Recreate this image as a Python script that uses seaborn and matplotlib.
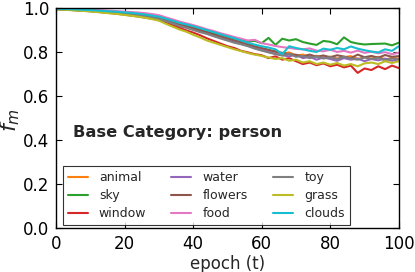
#!/usr/bin/env python3

import pandas as pd
import matplotlib
matplotlib.use("Agg")
import matplotlib.pyplot as plt
import seaborn as sns

# epochs sampled every 2 steps
epochs = list(range(0, 101, 2))

categories = ["animal", "sky", "window", "water", "flowers",
              "food", "toy", "grass", "clouds"]
colors = ["#ff7f0e", "#2ca02c", "#d62728", "#9467bd", "#8c564b",
          "#e377c2", "#7f7f7f", "#bcbd22", "#17becf"]

animal = [0.995, 0.994, 0.993, 0.991, 0.990, 0.989, 0.987, 0.985, 0.983, 0.980, 0.977,
          0.974, 0.970, 0.966, 0.961, 0.955, 0.945, 0.934, 0.924, 0.915, 0.906,
          0.896, 0.888, 0.876, 0.868, 0.858, 0.850, 0.842, 0.832, 0.822, 0.815,
          0.806, 0.802, 0.792, 0.798, 0.784, 0.788, 0.776, 0.783, 0.772, 0.779,
          0.770, 0.776, 0.781, 0.768, 0.775, 0.770, 0.778, 0.766, 0.773, 0.770]
sky = [0.996, 0.995, 0.993, 0.991, 0.989, 0.988, 0.986, 0.984, 0.982, 0.979, 0.976,
       0.973, 0.969, 0.965, 0.960, 0.955, 0.946, 0.935, 0.925, 0.918, 0.910,
       0.902, 0.894, 0.885, 0.878, 0.870, 0.862, 0.856, 0.848, 0.850, 0.840,
       0.864, 0.832, 0.860, 0.852, 0.858, 0.845, 0.838, 0.832, 0.850, 0.846,
       0.835, 0.866, 0.845, 0.838, 0.834, 0.836, 0.837, 0.838, 0.830, 0.842]
window = [0.994, 0.993, 0.991, 0.989, 0.987, 0.985, 0.982, 0.979, 0.976, 0.973, 0.969,
          0.965, 0.961, 0.956, 0.951, 0.945, 0.933, 0.921, 0.910, 0.898, 0.888,
          0.876, 0.862, 0.850, 0.838, 0.826, 0.818, 0.805, 0.798, 0.790, 0.785,
          0.772, 0.780, 0.765, 0.772, 0.758, 0.745, 0.752, 0.740, 0.748, 0.735,
          0.742, 0.730, 0.738, 0.705, 0.725, 0.718, 0.735, 0.722, 0.738, 0.727]
water = [0.995, 0.994, 0.992, 0.991, 0.989, 0.988, 0.986, 0.983, 0.981, 0.978, 0.975,
         0.971, 0.967, 0.963, 0.958, 0.952, 0.941, 0.931, 0.920, 0.911, 0.902,
         0.892, 0.884, 0.872, 0.864, 0.855, 0.846, 0.836, 0.828, 0.818, 0.810,
         0.800, 0.792, 0.785, 0.780, 0.788, 0.772, 0.778, 0.765, 0.775, 0.768,
         0.760, 0.772, 0.765, 0.770, 0.758, 0.768, 0.762, 0.770, 0.760, 0.765]
flowers = [0.996, 0.995, 0.994, 0.992, 0.991, 0.989, 0.987, 0.985, 0.983, 0.981, 0.978,
           0.975, 0.971, 0.967, 0.962, 0.956, 0.946, 0.936, 0.925, 0.917, 0.909,
           0.899, 0.890, 0.880, 0.872, 0.862, 0.853, 0.845, 0.835, 0.826, 0.818,
           0.810, 0.802, 0.796, 0.790, 0.786, 0.780, 0.788, 0.778, 0.784, 0.776,
           0.785, 0.779, 0.772, 0.788, 0.776, 0.782, 0.774, 0.786, 0.778, 0.781]
food = [0.997, 0.996, 0.995, 0.994, 0.993, 0.992, 0.990, 0.989, 0.987, 0.985, 0.983,
        0.981, 0.979, 0.976, 0.972, 0.967, 0.957, 0.948, 0.938, 0.930, 0.922,
        0.913, 0.903, 0.895, 0.885, 0.877, 0.868, 0.860, 0.852, 0.855, 0.840,
        0.834, 0.827, 0.822, 0.818, 0.814, 0.812, 0.816, 0.806, 0.803, 0.810,
        0.800, 0.805, 0.797, 0.806, 0.796, 0.801, 0.794, 0.799, 0.790, 0.796]
toy = [0.993, 0.992, 0.991, 0.989, 0.987, 0.985, 0.983, 0.980, 0.978, 0.975, 0.972,
       0.968, 0.965, 0.961, 0.956, 0.950, 0.940, 0.930, 0.918, 0.910, 0.900,
       0.890, 0.882, 0.872, 0.861, 0.852, 0.842, 0.835, 0.826, 0.815, 0.806,
       0.798, 0.790, 0.784, 0.792, 0.778, 0.782, 0.772, 0.780, 0.770, 0.776,
       0.768, 0.778, 0.770, 0.765, 0.775, 0.768, 0.773, 0.762, 0.770, 0.766]
grass = [0.993, 0.992, 0.990, 0.988, 0.986, 0.984, 0.981, 0.978, 0.975, 0.972, 0.968,
         0.964, 0.960, 0.955, 0.949, 0.942, 0.928, 0.915, 0.902, 0.892, 0.878,
         0.866, 0.852, 0.842, 0.832, 0.822, 0.812, 0.804, 0.795, 0.788, 0.782,
         0.775, 0.768, 0.772, 0.760, 0.765, 0.752, 0.758, 0.745, 0.752, 0.742,
         0.750, 0.738, 0.745, 0.735, 0.748, 0.752, 0.745, 0.758, 0.750, 0.758]
clouds = [0.996, 0.995, 0.994, 0.993, 0.991, 0.990, 0.988, 0.986, 0.984, 0.982, 0.980,
          0.977, 0.974, 0.970, 0.965, 0.960, 0.951, 0.942, 0.932, 0.925, 0.917,
          0.908, 0.899, 0.890, 0.880, 0.871, 0.862, 0.852, 0.842, 0.833, 0.826,
          0.820, 0.812, 0.790, 0.826, 0.818, 0.812, 0.805, 0.800, 0.815, 0.810,
          0.818, 0.812, 0.825, 0.815, 0.808, 0.802, 0.798, 0.812, 0.805, 0.826]

series = [animal, sky, window, water, flowers, food, toy, grass, clouds]


def build_frame():
    rows = []
    for name, vals in zip(categories, series):
        for e, v in zip(epochs, vals):
            rows.append({"epoch": e, "fm": v, "category": name})
    return pd.DataFrame(rows)


def main():
    sns.set_style("ticks", {"xtick.direction": "in", "ytick.direction": "in",
                            "axes.edgecolor": "black"})
    plt.rcParams["font.family"] = ["DejaVu Sans"]

    df = build_frame()
    fig = plt.figure(figsize=(4.15, 2.72), dpi=100)
    ax = fig.add_axes([0.135, 0.161, 0.826, 0.810])

    sns.lineplot(data=df, x="epoch", y="fm", hue="category",
                 hue_order=categories, palette=colors, linewidth=1.5,
                 ax=ax, legend=True)

    ax.set_xlim(0, 100)
    ax.set_ylim(0.0, 1.0)
    ax.set_xticks([0, 20, 40, 60, 80, 100])
    ax.set_yticks([0.0, 0.2, 0.4, 0.6, 0.8, 1.0])
    ax.tick_params(top=True, right=True, labelsize=12, length=4,
                   width=0.8, pad=5, colors="black")
    for sp in ax.spines.values():
        sp.set_linewidth(1.0)
        sp.set_color("black")

    ax.set_xlabel("epoch (t)", fontsize=12, labelpad=1)
    ax.set_ylabel("$f_m$", fontsize=16)
    ax.yaxis.set_label_coords(-0.098, 0.49)

    ax.text(0.049, 0.435, "Base Category: person", transform=ax.transAxes,
            fontsize=11.7, fontweight="bold", va="center", ha="left")

    handles, labels = ax.get_legend_handles_labels()
    leg = ax.legend(handles, labels, ncol=3, loc="lower left",
                    bbox_to_anchor=(0.0195, 0.015), borderaxespad=0,
                    fontsize=9, frameon=True, fancybox=False,
                    handlelength=1.6, handletextpad=0.9, columnspacing=2.0,
                    labelspacing=0.38, borderpad=0.4)
    leg.get_frame().set_edgecolor("black")
    leg.get_frame().set_linewidth(0.8)

    fig.savefig("out.png", dpi=100, facecolor="white")
    plt.close(fig)


if __name__ == "__main__":
    main()
